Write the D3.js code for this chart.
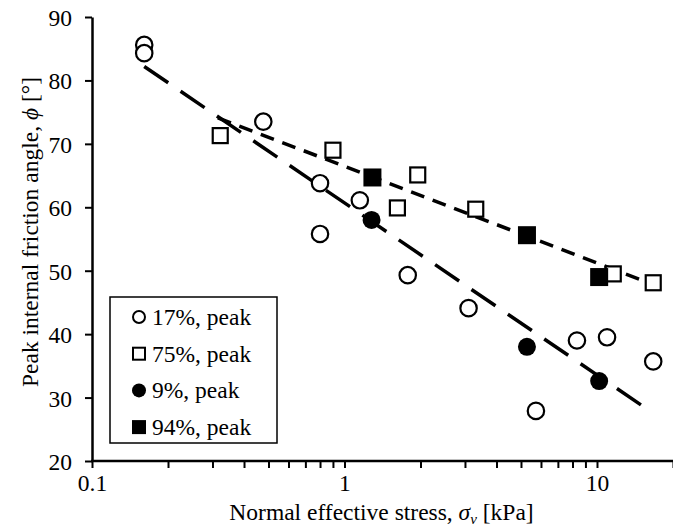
<!DOCTYPE html>
<html><head><meta charset="utf-8">
<script src="https://d3js.org/d3.v7.min.js"></script>
<style>
body{margin:0;background:#fff;}
text{font-family:"Liberation Serif","Times New Roman",serif;fill:#000;}
</style></head>
<body><svg id="c" width="673" height="528"></svg>
<script>
// Data
const s17x = [0.161, 0.161, 0.477, 0.80, 0.80, 1.15, 1.78, 3.1, 5.73, 8.33, 10.96, 16.7];
const s17y = [85.6, 84.3, 73.5, 63.8, 55.8, 61.1, 49.3, 44.1, 27.9, 39.0, 39.5, 35.7];
const s75x = [0.322, 0.90, 1.62, 1.95, 3.31, 11.6, 16.7];
const s75y = [71.3, 69.0, 59.9, 65.1, 59.7, 49.5, 48.1];
const s9x = [1.28, 5.28, 10.2];
const s9y = [58.0, 38.0, 32.6];
const s94x = [1.29, 5.28, 10.2];
const s94y = [64.7, 55.6, 49.0];
const trendLongX = [0.161, 16.6];
const trendLongY = [82.2, 27.6];
const trendShortX = [0.315, 16.5];
const trendShortY = [74.1, 47.9];
const xTicks = [0.1, 1, 10];
const yTicks = [20, 30, 40, 50, 60, 70, 80, 90];
const legendLabels = ["17%, peak", "75%, peak", "9%, peak", "94%, peak"];

const svg = d3.select("#c");
const L = 92, R = 673, T = 17, B = 461;
const x = d3.scaleLog().domain([0.1, 20]).range([L, R]);
const y = d3.scaleLinear().domain([20, 90]).range([B, T]);
const FS = "23.5px";

// Trendlines
const line = d3.line().x(d => x(d[0])).y(d => y(d[1]));
svg.append("path").datum(d3.zip(trendLongX, trendLongY)).attr("d", line)
  .attr("fill", "none").attr("stroke", "#000").attr("stroke-width", 3.5)
  .attr("stroke-dasharray", "29,15");
svg.append("path").datum(d3.zip(trendShortX, trendShortY)).attr("d", line)
  .attr("fill", "none").attr("stroke", "#000").attr("stroke-width", 3.5)
  .attr("stroke-dasharray", "14,9");

// Markers
function circles(xs, ys, filled) {
  svg.append("g").selectAll("circle").data(d3.zip(xs, ys)).join("circle")
    .attr("cx", d => x(d[0])).attr("cy", d => y(d[1])).attr("r", filled ? 9 : 8.2)
    .attr("fill", filled ? "#000" : "#fff").attr("stroke", "#000").attr("stroke-width", filled ? 0 : 2.2);
}
function squares(xs, ys, filled) {
  const s = filled ? 18 : 15;
  svg.append("g").selectAll("rect").data(d3.zip(xs, ys)).join("rect")
    .attr("x", d => x(d[0]) - s / 2).attr("y", d => y(d[1]) - s / 2)
    .attr("width", s).attr("height", s)
    .attr("fill", filled ? "#000" : "#fff").attr("stroke", "#000").attr("stroke-width", filled ? 0 : 2.2);
}
circles(s17x, s17y, false);
squares(s75x, s75y, false);
circles(s9x, s9y, true);
squares(s94x, s94y, true);

// Axes
const xAxisG = svg.append("g").attr("transform", `translate(0,${B})`)
  .call(d3.axisBottom(x).tickValues(x.ticks()).tickFormat(d => xTicks.includes(d) ? d3.format("~g")(d) : "").tickSize(7).tickSizeOuter(0));
const yAxisG = svg.append("g").attr("transform", `translate(${L},0)`)
  .call(d3.axisLeft(y).tickValues(yTicks).tickSize(7).tickSizeOuter(0));
[xAxisG, yAxisG].forEach(g => {
  g.select(".domain").attr("stroke-width", 2.5);
  g.selectAll(".tick line").attr("stroke-width", 2);
  g.selectAll(".tick text").style("font-size", FS).attr("font-family", null);
});
xAxisG.selectAll(".tick text").attr("y", 13);
yAxisG.selectAll(".tick text").attr("x", -20).attr("dy", "0.36em");
xAxisG.select(".domain").attr("d", `M${L - 1},0H${R}`);

// Axis titles
const xt = svg.append("text").attr("x", (L + R) / 2 - 1).attr("y", 520).attr("text-anchor", "middle").style("font-size", FS);
xt.append("tspan").text("Normal effective stress, ");
xt.append("tspan").style("font-style", "italic").text("σ");
xt.append("tspan").style("font-style", "italic").style("font-size", "15px").attr("dy", 4).text("v");
xt.append("tspan").attr("dy", -4).text(" [kPa]");

const yt = svg.append("text").attr("transform", "translate(38,232) rotate(-90)").attr("text-anchor", "middle").style("font-size", FS);
yt.append("tspan").text("Peak internal friction angle, ");
yt.append("tspan").style("font-style", "italic").text("ϕ");
yt.append("tspan").text(" [°]");

// Legend
const lg = svg.append("g");
lg.append("rect").attr("x", 110).attr("y", 297).attr("width", 167).attr("height", 146)
  .attr("fill", "#fff").attr("stroke", "#000").attr("stroke-width", 1.5);
const rowY = i => 317 + i * 36.7;
legendLabels.forEach((lab, i) => {
  const cy = rowY(i), cx = 139;
  if (i === 0 || i === 2) {
    lg.append("circle").attr("cx", cx).attr("cy", cy).attr("r", i === 2 ? 7 : 6)
      .attr("fill", i === 2 ? "#000" : "#fff").attr("stroke", "#000").attr("stroke-width", i === 2 ? 0 : 2);
  } else {
    const s = i === 3 ? 14 : 12;
    lg.append("rect").attr("x", cx - s / 2).attr("y", cy - s / 2).attr("width", s).attr("height", s)
      .attr("fill", i === 3 ? "#000" : "#fff").attr("stroke", "#000").attr("stroke-width", i === 3 ? 0 : 2);
  }
  lg.append("text").attr("x", 152).attr("y", cy).attr("dy", "0.34em").style("font-size", FS).text(lab);
});
</script></body></html>
